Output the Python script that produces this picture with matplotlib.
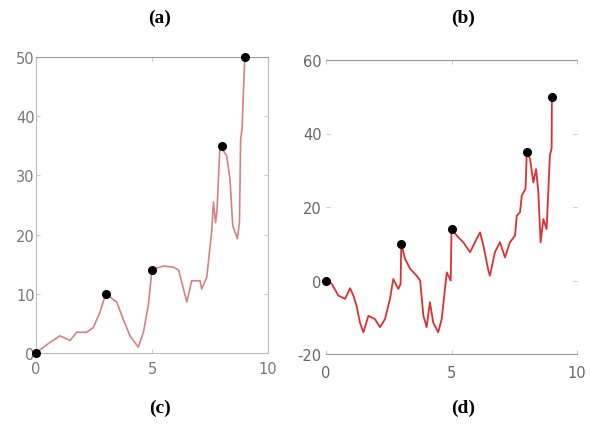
import matplotlib
matplotlib.use("Agg")
import matplotlib.pyplot as plt

plt.rcParams["axes.unicode_minus"] = False

# left panel: smooth path through the marked points
a_x = [0, 0.5, 1.03, 1.25, 1.47, 1.75, 2.18, 2.47, 2.76, 3.0, 3.48, 3.76, 4.05,
       4.41, 4.63, 4.84, 5.0, 5.49, 5.92, 6.15, 6.5, 6.71, 7.07, 7.14, 7.36,
       7.57, 7.65, 7.74, 7.8, 7.93, 8.22, 8.36, 8.48, 8.58, 8.68, 8.77, 8.82,
       8.88, 9.0]
a_y = [0, 1.5, 2.9, 2.5, 2.1, 3.5, 3.5, 4.3, 6.9, 10.0, 8.6, 5.7, 2.9,
       1.0, 3.5, 8.0, 14.1, 14.7, 14.5, 14.0, 8.6, 12.2, 12.2, 10.8, 12.8,
       20.4, 25.5, 22.0, 24.0, 35.0, 33.3, 29.4, 21.5, 20.4, 19.3, 22.1, 36.1,
       37.8, 50]

# right panel: rough path through the same marked points
b_x = [0, 0.23, 0.49, 0.76, 0.96, 1.09, 1.22, 1.35, 1.49, 1.69, 1.95, 2.15,
       2.35, 2.55, 2.68, 2.88, 2.97, 3.0, 3.15, 3.35, 3.61, 3.75, 3.88, 4.01,
       4.14, 4.27, 4.47, 4.61, 4.81, 4.97, 5.0, 5.21, 5.47, 5.74, 6.0, 6.14,
       6.27, 6.47, 6.53, 6.73, 6.93, 7.13, 7.33, 7.53, 7.6, 7.73, 7.8, 7.95,
       8.0, 8.13, 8.26, 8.37, 8.46, 8.55, 8.66, 8.79, 8.92, 8.99, 9.0]
b_y = [0, -0.9, -4.1, -5.0, -2.1, -4.1, -6.9, -11.4, -14.1, -9.6, -10.5, -12.7,
       -10.5, -5.0, 0.4, -2.3, -1.0, 10.0, 5.9, 3.2, 1.3, 0.0, -9.6, -12.7,
       -5.9, -11.4, -14.1, -10.5, 2.2, 0.0, 14.0, 12.2, 10.4, 7.7, 11.3, 13.1,
       9.5, 2.7, 1.3, 7.7, 10.4, 6.3, 10.4, 12.2, 17.6, 18.6, 23.1, 25.0,
       35.0, 33.1, 26.7, 30.3, 24.0, 10.4, 16.7, 14.0, 34.0, 36.0, 50]

peak_x = [0, 3, 5, 8, 9]
peak_y = [0, 10, 14, 35, 50]

fig = plt.figure(figsize=(5.9, 4.27), dpi=100)
W, H = 590, 427
grey = "#999999"

ax1 = fig.add_axes([36 / W, 1 - 354 / H, 232 / W, 296 / H])
ax1.plot(a_x, a_y, color="#d98080", lw=1.2)
ax1.plot(peak_x, peak_y, "o", color="black", ms=5.5, clip_on=False, zorder=5)
ax1.set_xlim(0, 10)
ax1.set_ylim(0, 50)
ax1.set_xticks([0, 5, 10])
ax1.set_yticks([0, 10, 20, 30, 40, 50])
for s in ax1.spines.values():
    s.set_color("#bbbbbb")
ax1.spines["top"].set_color(grey)
ax1.tick_params(direction="in", length=3, color="#cccccc", labelcolor="#777777",
                labelsize=10.5, top=True, right=True)
ax1.tick_params(axis="y", pad=1)
ax1.tick_params(axis="x", pad=6)

ax2 = fig.add_axes([326 / W, 1 - 355 / H, 251 / W, 294 / H])
ax2.plot(b_x, b_y, color="#dd3030", lw=1.3)
ax2.plot(peak_x, peak_y, "o", color="black", ms=5.5, clip_on=False, zorder=5)
ax2.set_xlim(0, 10)
ax2.set_ylim(-20, 60)
ax2.set_xticks([0, 5, 10])
ax2.set_yticks([-20, 0, 20, 40, 60])
ax2.spines["left"].set_visible(False)
ax2.spines["right"].set_visible(False)
ax2.spines["top"].set_color(grey)
ax2.spines["bottom"].set_color(grey)
ax2.tick_params(direction="in", length=3, color="#cccccc", labelcolor="#666666",
                labelsize=10.5, top=True, right=True)
ax2.tick_params(axis="y", pad=3)
ax2.tick_params(axis="x", pad=8)

title_font = dict(family="Liberation Serif", weight="bold", size=14,
                  ha="center", va="center")
fig.text(160 / W, 1 - 18 / H, "(a)", **title_font)
fig.text(463 / W, 1 - 18 / H, "(b)", **title_font)
fig.text(160 / W, 1 - 408 / H, "(c)", **title_font)
fig.text(463 / W, 1 - 408 / H, "(d)", **title_font)

fig.savefig("out.png", dpi=100)
